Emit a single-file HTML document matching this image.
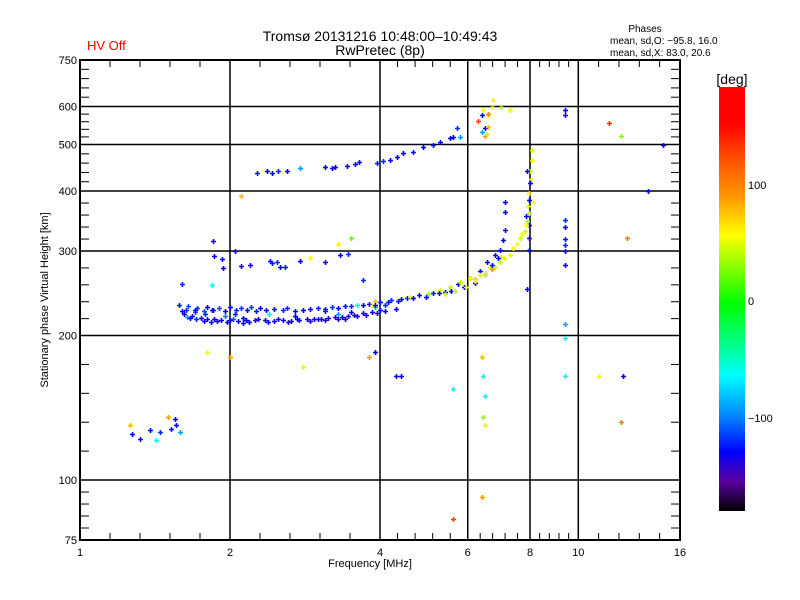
<!DOCTYPE html>
<html><head><meta charset="utf-8"><style>
body{margin:0;background:#fff;}
svg{display:block;font-family:"Liberation Sans","DejaVu Sans",sans-serif;}
</style></head><body>
<svg id="chart" width="800" height="600" viewBox="0 0 800 600">
<defs><linearGradient id="cbg" x1="0" y1="0" x2="0" y2="1">
<stop offset="0" stop-color="#ff0000"/><stop offset="0.085" stop-color="#ff0000"/>
<stop offset="0.17" stop-color="#ff5000"/><stop offset="0.26" stop-color="#ff9800"/>
<stop offset="0.35" stop-color="#ffff00"/><stop offset="0.51" stop-color="#00ff00"/>
<stop offset="0.6" stop-color="#00ff80"/><stop offset="0.68" stop-color="#00ffff"/>
<stop offset="0.78" stop-color="#0080ff"/><stop offset="0.86" stop-color="#0000ff"/>
<stop offset="0.93" stop-color="#5a00a0"/><stop offset="1" stop-color="#000000"/>
</linearGradient></defs>
<g id="grid"></g>
<g id="marks"></g>
<rect x="80" y="60" width="600" height="480" fill="none" stroke="#000" stroke-width="2"/>
<g id="axes"></g>
<text x="380" y="41" font-size="14" text-anchor="middle">Tromsø 20131216 10:48:00–10:49:43</text>
<text x="380" y="55" font-size="14" text-anchor="middle">RwPretec (8p)</text>
<text x="87" y="50" font-size="13" fill="#ff0000">HV Off</text>
<text x="645" y="32" font-size="10" text-anchor="middle">Phases</text>
<text x="610" y="44" font-size="10">mean, sd,O: −95.8, 16.0</text>
<text x="610" y="56" font-size="10">mean, sd,X:  83.0, 20.6</text>
<text x="370" y="567" font-size="11" text-anchor="middle">Frequency [MHz]</text>
<text transform="translate(48,300) rotate(-90)" font-size="11" text-anchor="middle">Stationary phase Virtual Height [km]</text>
<rect x="719" y="87" width="26" height="424" fill="url(#cbg)"/>
<text x="732" y="84" font-size="14" text-anchor="middle">[deg]</text>
<text x="748" y="189" font-size="11">100</text>
<text x="748" y="305" font-size="11">0</text>
<text x="748" y="422" font-size="11">−100</text>
</svg>
<script>
const xMajors=[1,2,4,6,8,10,16];
const yMajors=[75,100,200,300,400,500,600,750];
const xTickLabels=["1","2","4","6","8","10","16"];
const yTickLabels=["75","100","200","300","400","500","600","750"];
// points: frequency [MHz], virtual height [km], phase [deg]
const freqs=[
1.62,1.68,1.75,1.8,1.86,1.92,2.0,2.08,2.15,2.25,2.35,2.45,2.55,2.65,2.75,2.85,2.95,3.05,3.15,3.25,3.35,3.45,3.55,3.7,3.85,4.0,
1.58,1.65,1.72,1.8,1.9,2.0,2.1,2.2,2.3,2.45,2.6,2.8,3.0,3.2,3.4,3.6,3.8,4.0,4.2,4.4,4.53,4.8,5.11,5.4,5.74,6.06,6.35,6.56,6.81,6.96,7.06,7.12,7.12,7.12,
1.6,1.64,1.7,1.78,1.84,1.95,2.05,2.12,2.4,2.7,3.1,3.3,3.5,3.9,4.1,
5.28,5.52,5.79,6.06,6.35,6.64,6.96,7.29,7.54,7.71,7.88,7.92,7.98,8.05,8.08,8.08,6.2,6.5,6.7,7.0,7.4,7.8,8.0,3.85,3.9,4.6,5.0,
7.98,7.98,7.95,7.98,7.95,7.9,
2.27,2.37,2.43,2.5,2.6,2.76,3.1,3.2,3.25,3.43,3.56,3.63,3.94,4.06,4.19,4.33,4.45,4.66,4.88,5.1,5.28,5.52,5.6,5.8,5.7,
1.86,1.93,1.94,2.1,2.19,2.41,2.43,2.48,2.52,2.58,2.76,3.1,3.32,3.45,3.7,1.6,1.84,
1.27,1.32,1.38,1.45,1.52,1.56,1.59,1.55,1.42,
6.3,6.4,6.45,6.5,6.6,6.7,6.5,6.4,6.55,6.6,6.75,7.0,7.3,
9.4,9.4,9.4,9.4,9.4,9.4,9.4,9.4,9.4,9.4,9.4,
6.4,6.45,6.5,6.45,6.5,6.4,5.6,5.6,4.3,3.8,1.26,1.5,1.8,2.0,2.8,3.5,1.85,2.05,2.9,3.3,11.5,12.2,12.5,13.8,14.8,12.2,11.0,3.9,4.4,2.1,12.3,
1.66,1.71,1.77,1.83,1.88,1.97,2.03,2.12,2.18,2.28,2.38,2.5,2.62,2.72,2.9,3.0,3.1,3.3,3.4,3.6,3.75,3.95,4.1,4.3,
1.63,1.7,1.77,1.85,1.95,2.06,2.16,2.26,2.36,2.55,2.7,2.9,3.1,3.3,3.5,3.7,3.9,4.15,4.35,4.65,4.95,5.25,5.55,5.9,6.2,6.7,6.9,
5.4,5.65,5.95,6.2,6.5,6.8,7.1,7.4,7.65,7.85,7.95,8.1,8.0,7.9,7.85
];
const heights=[
222,220,218,217,216,215,215,214,215,215,215,214,215,214,215,216,216,216,218,219,219,220,221,223,224,226,
232,230,228,229,228,229,228,229,228,227,228,226,228,229,230,232,233,235,237,238,240,243,245,247,256,264,272,285,295,301,316,332,362,380,
225,219,224,222,226,220,222,218,222,220,225,222,224,229,232,
249,252,258,264,268,278,285,295,310,326,346,372,397,424,464,487,262,270,275,292,305,330,440,232,236,241,244,
301,320,340,360,383,250,
436,440,436,440,440,446,449,446,449,452,455,460,458,463,465,470,480,483,494,500,507,516,519,518,541,
293,289,277,279,281,286,283,284,278,278,286,284,294,296,261,256,255,
125,122,127,126,128,130,126,134,121,
560,575,590,540,545,600,520,530,525,580,620,600,590,
590,575,348,336,318,309,300,281,211,198,165,
180,165,150,135,130,92,155,83,165,180,130,135,185,180,172,320,315,300,290,310,555,520,320,400,500,132,165,185,165,390,165,
218,216,214,213,214,213,217,212,213,216,213,216,213,216,214,217,215,217,217,220,221,223,225,227,
226,226,225,226,225,226,226,225,226,226,225,227,227,228,230,231,232,235,236,239,241,245,248,252,257,280,290,
244,248,253,260,268,278,290,305,320,340,360,380,415,440,355
];
const phases=[
-110,-115,-105,-120,-110,-100,-115,-110,-100,-120,-115,-110,-100,-115,-105,-120,-110,-100,-115,-120,-110,-115,-120,-110,-100,-110,
-95,-80,-90,-100,-80,-95,-90,-85,-100,-95,-90,-100,-90,-85,-95,-40,-100,-95,-90,-100,-95,-100,-95,-110,-100,-105,-110,-100,-110,-105,-100,-110,-105,-100,
-100,-60,-80,-90,-100,-70,-95,-100,-40,-100,-90,-60,-110,-50,-90,
80,75,70,85,80,75,70,80,90,85,70,80,95,85,90,80,110,100,120,95,110,75,70,90,110,80,60,
-100,-110,-100,-120,-105,-100,
-95,-100,-105,-90,-100,-60,-100,-110,-100,-110,-100,-110,-95,-90,-100,-105,-100,-95,-100,-95,-100,-110,-100,-60,-90,
-100,-100,-110,-120,-110,-100,-95,-90,-100,-95,-100,-110,-100,-90,-90,-90,-40,
-100,-120,-100,-90,-95,-100,-60,-110,-40,
150,-100,90,-100,110,80,120,-60,75,130,90,70,80,
-100,-110,-90,-100,-95,-90,-105,-100,-60,-30,-40,
110,-40,-40,60,80,120,-40,150,-110,120,110,120,90,120,80,50,-110,-110,90,90,160,60,130,-100,-110,130,85,-100,-110,110,-100,
-100,-90,-110,-95,-120,-100,-80,-110,-100,-115,-95,-110,-120,-100,-115,-110,-120,-115,-110,-120,-115,-110,-100,-110,
-90,-100,-80,-95,-100,-90,-110,-95,-100,-90,-100,-110,-95,-100,-90,-100,-110,-100,-95,-105,-100,-110,-100,-110,-105,-100,-110,
75,70,80,85,70,75,80,85,75,90,80,85,-100,-110,-100
];
const NS='http://www.w3.org/2000/svg';
const X0=80,X1=680,Y0=540,Y1=60;
function xs(f){return X0+(X1-X0)*Math.log(f)/Math.log(16);}
function ys(h){return Y0-(Y0-Y1)*Math.log10(h/75)/Math.log10(10);}
function color(v){
 const stops=[[-180,[0,0,0]],[-152,[90,0,160]],[-100,[0,0,255]],[-68,[0,128,255]],[-37,[0,255,255]],[0,[0,255,128]],[28,[0,255,0]],[88,[255,255,0]],[120,[255,152,0]],[152,[255,60,0]],[180,[255,0,0]]];
 v=Math.max(-180,Math.min(180,v));
 for(let i=0;i<stops.length-1;i++){const a=stops[i],b=stops[i+1];if(v<=b[0]){const t=(v-a[0])/(b[0]-a[0]);const c=a[1].map((q,k)=>Math.round(q+(b[1][k]-q)*t));return 'rgb('+c.join(',')+')';}}
 return 'red';
}
function mk(tag,attrs,parent){const e=document.createElementNS(NS,tag);for(const k in attrs)e.setAttribute(k,attrs[k]);parent.appendChild(e);return e;}
const grid=document.getElementById('grid'),axes=document.getElementById('axes'),marks=document.getElementById('marks');
xMajors.forEach((f,i)=>{
 const x=xs(f);
 if(i>0&&i<xMajors.length-1){const l=mk('line',{x1:x,y1:Y1,x2:x,y2:Y0,stroke:'#000','stroke-width':1.5},grid);
 
 }
 const t=mk('text',{x:x,y:556,'font-size':11,'text-anchor':'middle'},axes);t.textContent=xTickLabels[i];
 
 
 if(i<xMajors.length-1){const xa=x,xb=xs(xMajors[i+1]);for(let k=1;k<5;k++){const xx=xa+(xb-xa)*k/5;
  mk('line',{x1:xx,y1:Y0,x2:xx,y2:Y0-7,stroke:'#000'},axes);mk('line',{x1:xx,y1:Y1,x2:xx,y2:Y1+7,stroke:'#000'},axes);}}
});
yMajors.forEach((h,i)=>{
 const y=ys(h);
 if(i>0&&i<yMajors.length-1){const l=mk('line',{x1:X0,y1:y,x2:X1,y2:y,stroke:'#000','stroke-width':1.5},grid);
 
 }
 const t=mk('text',{x:77,y:y+4,'font-size':11,'text-anchor':'end'},axes);t.textContent=yTickLabels[i];
 
 
 if(i<yMajors.length-1){const ya=y,yb=ys(yMajors[i+1]);for(let k=1;k<5;k++){const yy=ya+(yb-ya)*k/5;
  mk('line',{x1:X0,y1:yy,x2:X0+9,y2:yy,stroke:'#000'},axes);mk('line',{x1:X1,y1:yy,x2:X1-9,y2:yy,stroke:'#000'},axes);}}
});
for(let i=0;i<freqs.length;i++){
 const x=Math.round(xs(freqs[i])),y=Math.round(ys(heights[i])),c=color(phases[i]);
 const p=mk('path',{d:'M'+(x-2)+' '+(y+0.5)+'h5M'+(x+0.5)+' '+(y-2)+'v5',stroke:c,'stroke-width':1.6},marks);
 
 
}
</script>
</body></html>
